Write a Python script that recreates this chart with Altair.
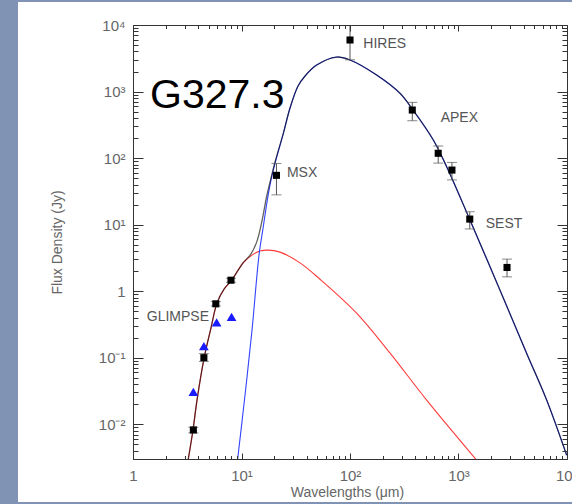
import altair as alt
import pandas as pd

# ---------------- data ----------------
# photometry: black squares with error bars (wavelength in micron, flux in Jy)
sq_wav = [3.6, 4.5, 5.8, 8.0, 21.0, 100.0, 375.0, 650.0, 870.0, 1270.0, 2800.0]
sq_flux = [0.0082, 0.10, 0.645, 1.46, 55.0, 5950.0, 527.0, 118.0, 66.0, 12.1, 2.27]
sq_lo = [0.0074, 0.088, 0.60, 1.36, 28.0, 3000.0, 364.0, 84.0, 47.0, 8.6, 1.64]
sq_hi = [0.0090, 0.115, 0.70, 1.56, 83.0, 10000.0, 688.0, 152.0, 86.0, 15.6, 3.03]

# blue triangles
tri_wav = [3.6, 4.5, 5.9, 8.1]
tri_flux = [0.0306, 0.149, 0.339, 0.41]

# hot component (red curve)
hot_wav = [3.23, 3.57, 3.89, 4.54, 5.23, 5.94, 6.90, 8.12, 10.3, 12.5, 14.8, 17.5,
           22.6, 34.6, 52.9, 115, 234, 509, 1472]
hot_flux = [0.00298, 0.00812, 0.0230, 0.1018, 0.278, 0.66, 1.07, 1.46, 2.64, 3.48, 4.0, 4.14,
            3.86, 2.66, 1.51, 0.467, 0.117, 0.0230, 0.00287]

# cold component (blue curve)
cold_wav = [9.22, 10.77, 12.5, 14.5, 15.8, 17.3, 18.7, 20.4, 24.3, 28.0, 33.2, 38.5, 49.3,
            75.4, 100, 176, 289, 381, 586, 778, 1276, 2412, 4252, 6502, 9935]
cold_flux = [0.003, 0.0273, 0.259, 3.48, 8.86, 23.4, 46.7, 84.1, 235, 565, 1210, 1710, 2500,
             3300, 2980, 1770, 940, 527, 187, 74.0, 11.7, 1.035, 0.1157, 0.0230, 0.00342]

# total model (dark curve)
tot_wav = [3.23, 3.57, 3.89, 4.54, 5.23, 5.94, 6.90, 8.12, 10.3, 12.2, 13.9, 15.5, 17.0,
           18.7, 20.4, 24.3, 28.0, 33.2, 38.5, 49.3, 75.4, 100, 176, 289, 381, 586, 778,
           1276, 2412, 4252, 6502, 9935]
tot_flux = [0.00298, 0.00812, 0.0230, 0.1018, 0.278, 0.66, 1.07, 1.46, 2.64, 3.6, 5.65, 11.7,
            26.0, 50.0, 88.0, 235, 565, 1210, 1710, 2500, 3300, 2980, 1770, 940, 527, 187,
            74.0, 11.7, 1.035, 0.1157, 0.0230, 0.00342]

# instrument labels
lab_text = ["GLIMPSE", "MSX", "HIRES", "APEX", "SEST"]
lab_wav = [1.34, 26.2, 132.6, 685.0, 1782.0]
lab_flux = [0.406, 58.9, 5130.0, 404.0, 10.2]

x_decades = [1, 10, 100, 1000]
y_decades = [0.001, 0.01, 0.1, 1, 10, 100, 1000]
# --------------------------------------------------------------

x_ticks = [d * m for d in x_decades for m in range(1, 10)] + [10000]
y_ticks = [d * m for d in y_decades for m in range(1, 10) if d * m >= 0.003] + [10000]

XD = [1, 10000]
YD = [0.003, 10000]
xs = alt.Scale(type="log", domain=XD)
ys = alt.Scale(type="log", domain=YD)

MAJOR = "abs(log(datum.value)/LN10 - round(log(datum.value)/LN10)) < 0.000001"
LABEL = ("abs(log(datum.value)/LN10 - round(log(datum.value)/LN10)) > 0.000001 ? '' : "
         "(round(log(datum.value)/LN10) == 0 ? '1' : '10' + "
         "['\u207b\u00b2','\u207b\u00b9','','\u00b9','\u00b2','\u00b3','\u2074']"
         "[round(log(datum.value)/LN10) + 2])")

FONT = "Liberation Sans"
common = dict(grid=False, zindex=1, domainColor="#333", tickColor="#333", tickWidth=1,
              labelColor="#666", labelFont=FONT, labelFontSize=15, labelFlush=False,
              labelOverlap=False, labelExpr=LABEL, titleFont=FONT, titleFontSize=14,
              titleColor="#666", titleFontWeight="normal")


def xaxis(orient, labels):
    kw = dict(common)
    kw.update(orient=orient, values=x_ticks, labels=labels,
              tickSize={"condition": {"test": MAJOR, "value": -6}, "value": -3.5})
    if labels:
        kw.update(title="Wavelengths (\u03bcm)", labelPadding=15, titleX=214, titleY=33,
                  titleBaseline="middle", titleAlign="center")
    else:
        kw.update(title=None)
    return alt.Axis(**kw)


def yaxis(orient, labels):
    kw = dict(common)
    kw.update(orient=orient, values=y_ticks, labels=labels,
              tickSize={"condition": {"test": MAJOR, "value": -10}, "value": -5})
    if labels:
        kw.update(title="Flux Density (Jy)", labelPadding=18, titleX=-76, titleY=217,
                  titleAngle=-90, titleBaseline="middle", titleAlign="center")
    else:
        kw.update(title=None)
    return alt.Axis(**kw)


sq = pd.DataFrame({"w": sq_wav, "f": sq_flux, "lo": sq_lo, "hi": sq_hi})
tri = pd.DataFrame({"w": tri_wav, "f": tri_flux})
hot = pd.DataFrame({"w": hot_wav, "f": hot_flux})
cold = pd.DataFrame({"w": cold_wav, "f": cold_flux})
tot = pd.DataFrame({"w": tot_wav, "f": tot_flux})
labs = pd.DataFrame({"t": lab_text, "w": lab_wav, "f": lab_flux})
one = pd.DataFrame({"a": [0]})

X = alt.X("w:Q", scale=xs, axis=None)
Y = alt.Y("f:Q", scale=ys, axis=None)

bg = alt.Chart(one).mark_rect(color="white").encode(
    x=alt.value(-115), x2=alt.value(445), y=alt.value(-23), y2=alt.value(477))

INTERP = "catmull-rom"
hot_line = alt.Chart(hot).mark_line(color="#ff3b3b", strokeWidth=1.1, interpolate=INTERP,
                                    clip=True).encode(x=X, y=Y, order="w:Q")
cold_line = alt.Chart(cold).mark_line(color="#3344ff", strokeWidth=1.1, interpolate=INTERP,
                                      clip=True).encode(x=X, y=Y, order="w:Q")
tot_line = alt.Chart(tot).mark_line(color="black", opacity=0.62, strokeWidth=1.3,
                                    interpolate=INTERP, clip=True).encode(x=X, y=Y, order="w:Q")

err = alt.Chart(sq).mark_rule(color="#555", strokeWidth=1, clip=True).encode(
    x=X, y=alt.Y("lo:Q", scale=ys, axis=None), y2="hi:Q")
cap_lo = alt.Chart(sq).mark_tick(color="#555", orient="horizontal", size=10, thickness=1,
                                 clip=True).encode(x=X, y=alt.Y("lo:Q", scale=ys, axis=None))
cap_hi = alt.Chart(sq).mark_tick(color="#555", orient="horizontal", size=10, thickness=1,
                                 clip=True).encode(x=X, y=alt.Y("hi:Q", scale=ys, axis=None))
squares = alt.Chart(sq).mark_square(color="black", size=50, opacity=1).encode(x=X, y=Y)
triangles = alt.Chart(tri).mark_point(shape="triangle-up", filled=True, color="#1a1aff",
                                      size=95, opacity=1).encode(x=X, y=Y)

labels = alt.Chart(labs).mark_text(font=FONT, fontSize=14, color="#555", align="left",
                                   baseline="middle").encode(x=X, y=Y, text="t:N")

name = alt.Chart(one).mark_text(text="G327.3", font=FONT, fontSize=41, color="black",
                                align="left", baseline="alphabetic").encode(
    x=alt.value(17), y=alt.value(83))

axes_bl = alt.Chart(tri).mark_point(opacity=0).encode(
    x=alt.X("w:Q", scale=xs, axis=xaxis("bottom", True)),
    y=alt.Y("f:Q", scale=ys, axis=yaxis("left", True)))
axes_tr = alt.Chart(tri).mark_point(opacity=0).encode(
    x=alt.X("w:Q", scale=xs, axis=xaxis("top", False)),
    y=alt.Y("f:Q", scale=ys, axis=yaxis("right", False)))

chart = alt.layer(
    bg, hot_line, cold_line, tot_line, err, cap_lo, cap_hi, squares, triangles,
    labels, name, axes_bl, axes_tr
).resolve_axis(x="independent", y="independent").properties(
    width=434, height=434, autosize="none",
    padding={"left": 133, "top": 25, "right": 5, "bottom": 45},
    background="#8193b5",
).configure_view(stroke=None)

chart.save("out.html", embed_options={"renderer": "svg", "actions": False})
